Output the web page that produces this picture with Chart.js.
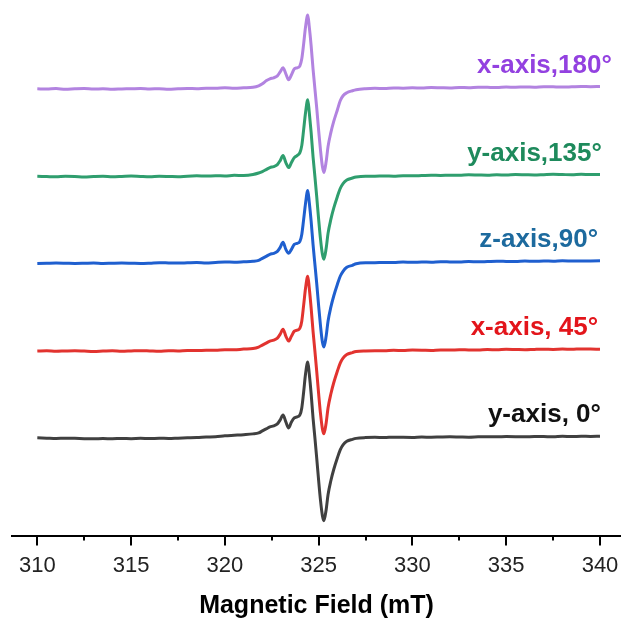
<!DOCTYPE html>
<html>
<head>
<meta charset="utf-8">
<script src="https://cdn.jsdelivr.net/npm/chart.js@4.4.0/dist/chart.umd.min.js"></script>
<style>
  html, body { margin:0; padding:0; background:#fff; }
  #wrap { width:621px; height:621px; }
</style>
</head>
<body>
<div id="wrap"><canvas id="epr"></canvas></div>
<script>
// magnetic field positions (mT), shared by all spectra
var field = [
  310, 310.5, 311, 311.5, 312, 312.5, 313, 313.5, 314, 314.5, 315, 315.5,
  316, 316.5, 317, 317.5, 318, 318.5, 319, 319.5, 320, 320.5, 321,
  321.5, 321.8, 322, 322.2, 322.4, 322.6, 322.8, 322.95, 323.1, 323.25,
  323.4, 323.55, 323.7, 323.85, 324, 324.1, 324.2, 324.3, 324.42, 324.5,
  324.6, 324.7, 324.8, 324.9, 325, 325.1, 325.2, 325.28, 325.4, 325.5,
  325.65, 325.8, 326, 326.15, 326.3, 326.5, 326.8, 327, 327.5,
  328, 328.5, 329, 329.5, 330, 330.5, 331, 331.5, 332, 332.5, 333, 333.5,
  334, 334.5, 335, 335.5, 336, 336.5, 337, 337.5, 338, 338.5, 339, 339.5, 340
];

// signal of each spectrum (arb. units)
var yAxis0 = [
  0, -0.3, -0.6, -0.3, -0.5, -0.8, -1, -0.7, -0.9, -0.6, -0.8, -0.5, -0.7, -0.4, -0.6, -0.3, 0, 0.3, 0.8, 1.2, 2, 2.6, 3.2,
  4, 5, 7, 9, 11, 12, 14, 18, 23, 16, 10, 16, 20, 21, 23, 30, 46, 64, 76, 64, 44, 20, 0,
  -21, -43, -63, -78, -83, -72, -57, -43, -32, -20, -12, -7, -3.5, -1.5, -0.5, 0.3,
  0.5, 0.3, 0.7, 0.5, 0.4, 0.8, 0.6, 0.9, 1.1, 0.9, 0.7, 1, 1.2, 1, 1.3, 1.2, 1, 1.4, 1.3, 1.1, 1.5, 1.3, 1.6, 1.4, 1.6
];
var xAxis45 = [
  0, 0.3, -0.2, 0.1, 0.3, 0, -0.3, 0, 0.3, -0.2, 0.1, 0.4, 0.1, -0.2, 0.3, 0.2, 0.7, 0.5, 0.9, 0.8, 1.4, 1.3, 2,
  2.5, 4, 6, 8, 10, 11, 13, 17, 22, 15, 10, 15, 20, 21, 23, 30, 46, 63, 75, 63, 43, 20, 0,
  -21, -43, -63, -78, -83, -72, -57, -43, -32, -20, -12, -7, -3.5, -1.5, -0.5, 0.2,
  0.4, 0.3, 0.8, 0.6, 1, 0.9, 0.7, 1.1, 1, 1.4, 1.2, 1.1, 1.5, 1.3, 1.8, 1.6, 1.4, 1.7, 1.9, 1.7, 2, 1.8, 2.2, 2, 1.9
];
var zAxis90 = [
  -0.3, 0, 0.3, 0.1, -0.2, 0, 0.3, -0.2, 0.1, 0.3, 0.1, -0.2, 0.1, 0.6, 0.4, 0.2, 0.5, 0.8, 0.4, 0.9, 1.3, 1.1, 1.5,
  2, 3, 5, 7, 9, 10, 12, 16, 21, 14, 10, 14, 19, 20, 22, 29, 44, 60, 73, 61, 42, 19, -1,
  -21, -43, -63, -79, -84, -73, -58, -44, -33, -21, -13, -8, -4, -2, -0.5, 0.5,
  0.6, 0.9, 0.7, 1.2, 1, 1.3, 1.1, 1.6, 1.4, 1.2, 1.7, 1.5, 1.8, 2.1, 1.9, 1.7, 2.2, 2, 2.3, 2.1, 2.5, 2.3, 2.2, 2.4, 2.6
];
var yAxis135 = [
  0.3, 0, -0.3, 0.2, 0, -0.5, 0, 0.3, -0.2, 0.1, 0.5, 0.1, -0.2, 0.3, 0.1, -0.2, 0.4, 0.7, 0.5, 0.8, 0.6, 1.2, 1.1,
  2, 3.5, 5, 7, 9, 10, 12, 16, 21, 14, 9, 14, 19, 21, 24, 31, 47, 64, 77, 64, 44, 20, 0,
  -21, -43, -63, -78, -83, -72, -57, -43, -32, -20, -12, -7, -3.5, -1.5, -0.5, 0.3,
  0.3, 0.6, 0.4, 0.9, 0.7, 1, 1.3, 1.1, 1.4, 1.2, 1.7, 1.5, 1.3, 1.7, 1.6, 2, 1.8, 1.6, 1.9, 2.2, 2, 1.8, 2.2, 2, 2.1
];
var xAxis180 = [
  0, -0.3, 0.2, -0.5, 0, 0.3, -0.3, 0, -0.5, -0.2, 0, 0.3, -0.2, 0.1, -0.4, 0, 0.3, 0.1, 0.6, 0.4, 1, 0.6, 1,
  1.5, 3, 5, 8, 10, 11, 13, 17, 21, 15, 9, 14, 20, 21, 23, 30, 45, 62, 74, 62, 43, 20, 0,
  -20, -42, -62, -78, -84, -73, -58, -44, -33, -21, -12, -7, -4, -2, -1, 0,
  0.4, 0.2, 0.8, 0.6, 0.9, 0.7, 1.2, 1, 0.8, 1.3, 1.1, 1.6, 1.4, 1.2, 1.7, 1.5, 1.8, 1.6, 2.1, 1.9, 1.7, 2, 2.3, 2.1, 2.3
];

var seriesNames = ['y-axis, 0\u00b0', 'x-axis, 45\u00b0', 'z-axis,90\u00b0', 'y-axis,135\u00b0', 'x-axis,180\u00b0'];
var seriesValues = [yAxis0, xAxis45, zAxis90, yAxis135, xAxis180];
var offsets = [98, 185, 273, 360, 448];   // vertical stacking of the spectra
var minorTicks = [312.5, 317.5, 322.5, 327.5, 332.5, 337.5];

var lineColors = ['#404040', '#e2332f', '#1f5fcf', '#2f9e6e', '#b283e0'];
var textColors = ['#111111', '#e3151b', '#1d6a9e', '#1e8a5c', '#9341e0'];
var labelRight = [340.05, 339.9, 339.9, 340.1, 340.63];

var datasets = seriesValues.map(function (vals, i) {
  return {
    label: seriesNames[i],
    data: field.map(function (f, j) { return { x: f, y: vals[j] + offsets[i] }; }),
    borderColor: lineColors[i],
    borderWidth: 3,
    pointRadius: 0,
    cubicInterpolationMode: 'monotone',
    fill: false,
    clip: false
  };
});

var decor = {
  id: 'decor',
  afterDraw: function (chart) {
    var ctx = chart.ctx, xs = chart.scales.x, ys = chart.scales.y;
    var base = chart.chartArea.bottom;
    ctx.save();
    ctx.strokeStyle = '#000';
    ctx.lineWidth = 2;
    minorTicks.forEach(function (v) {
      var px = Math.round(xs.getPixelForValue(v));
      ctx.beginPath();
      ctx.moveTo(px, base);
      ctx.lineTo(px, base + 5);
      ctx.stroke();
    });
    ctx.font = 'bold 26px "Liberation Sans", Arial, sans-serif';
    ctx.textAlign = 'right';
    ctx.textBaseline = 'alphabetic';
    seriesNames.forEach(function (name, i) {
      ctx.fillStyle = textColors[i];
      ctx.fillText(name, xs.getPixelForValue(labelRight[i]), ys.getPixelForValue(offsets[i] + 16));
    });
    ctx.restore();
  }
};

new Chart(document.getElementById('epr'), {
  type: 'line',
  data: { datasets: datasets },
  options: {
    responsive: true,
    maintainAspectRatio: false,
    animation: false,
    devicePixelRatio: 1,
    layout: { padding: { left: 12, right: 0, top: 0, bottom: 0 } },
    plugins: { legend: { display: false }, tooltip: { enabled: false } },
    scales: {
      x: {
        type: 'linear',
        min: 308.65,
        max: 341.12,
        afterFit: function (scale) { scale.paddingLeft = 0; scale.paddingRight = 0; },
        ticks: {
          stepSize: 5,
          includeBounds: false,
          autoSkip: false,
          maxRotation: 0,
          padding: 7,
          color: '#222',
          font: { family: '"Liberation Sans", Arial, sans-serif', size: 22 }
        },
        grid: { drawOnChartArea: false, tickLength: 10, color: '#000', lineWidth: 2 },
        border: { display: true, color: '#000', width: 2 },
        title: {
          display: true,
          text: 'Magnetic Field (mT)',
          color: '#000',
          font: { family: '"Liberation Sans", Arial, sans-serif', size: 25, weight: 'bold' },
          padding: { top: 5, bottom: 0 }
        }
      },
      y: { display: false, min: 0, max: 537 }
    }
  },
  plugins: [decor]
});
</script>
</body>
</html>
